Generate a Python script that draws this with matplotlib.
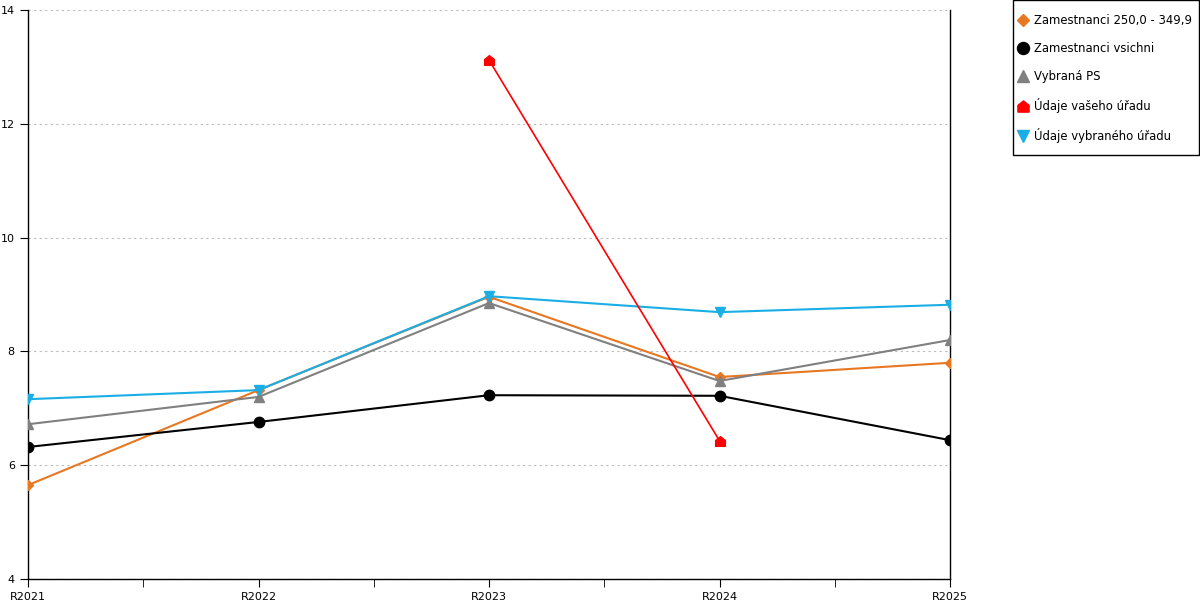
import numpy as np
import matplotlib.pyplot as plt
from matplotlib.path import Path
from matplotlib.patches import Rectangle

years = ['R2021', 'R2022', 'R2023', 'R2024', 'R2025']
zam_250 = [5.65, 7.32, 8.96, 7.55, 7.80]
zam_all = [6.32, 6.76, 7.23, 7.22, 6.44]
vybrana_ps = [6.72, 7.20, 8.85, 7.48, 8.20]
vas_urad = [np.nan, np.nan, 13.12, 6.43, np.nan]
vybrany_urad = [7.16, 7.32, 8.97, 8.69, 8.82]

# house shaped marker
house = Path([(-1, -1), (1, -1), (1, 0.2), (0, 1), (-1, 0.2), (-1, -1)],
             [Path.MOVETO, Path.LINETO, Path.LINETO, Path.LINETO, Path.LINETO, Path.CLOSEPOLY])

plt.rcParams['font.family'] = 'DejaVu Sans'
fig = plt.figure(figsize=(12, 6), dpi=100)
ax = fig.add_axes([28/1200, 21/600, 922/1200, 569/600])

x = np.arange(len(years))
ax.plot(x, zam_250, color='#E87722', lw=1.5, marker='D', ms=5, label='Zamestnanci 250,0 - 349,9', zorder=3)
ax.plot(x, zam_all, color='#000000', lw=1.5, marker='o', ms=7.5, label='Zamestnanci vsichni', zorder=3)
ax.plot(x, vybrana_ps, color='#808080', lw=1.5, marker='^', ms=7, label='Vybraná PS', zorder=3)
ax.plot(x, vas_urad, color='#FF0000', lw=1.2, marker=house, ms=7, label='Údaje vašeho úřadu', zorder=4)
ax.plot(x, vybrany_urad, color='#1AAEE5', lw=1.5, marker='v', ms=7, label='Údaje vybraného úřadu', zorder=3)

ax.set_xlim(0, 4)
ax.set_ylim(4, 14)
ax.set_xticks(x)
ax.set_xticklabels(years)
ax.set_xticks(x[:-1] + 0.5, minor=True)
ax.set_yticks([4, 6, 8, 10, 12, 14])
ax.tick_params(axis='both', which='both', labelsize=8, length=6, direction='out')
ax.tick_params(axis='x', pad=3)
ax.grid(axis='y', linestyle=(0, (2, 3)), color='#bbbbbb', lw=0.8)
ax.spines['top'].set_visible(False)
for s in ['left', 'bottom', 'right']:
    ax.spines[s].set_linewidth(1)

# legend frame drawn separately
fig.patches.append(Rectangle((1013/1200, 445/600), 186/1200, 155/600, transform=fig.transFigure,
                             facecolor='white', edgecolor='black', lw=1, zorder=1))
leg = fig.legend(loc='upper left', bbox_to_anchor=(1019/1200, (600-14)/600), fontsize=8.4,
                 frameon=False, handlelength=0.7, handletextpad=0.6, labelspacing=1.28,
                 borderpad=0, borderaxespad=0, markerscale=1.15)
for h in leg.legend_handles:
    h.set_linestyle('None')

plt.savefig('out.png', dpi=100)
